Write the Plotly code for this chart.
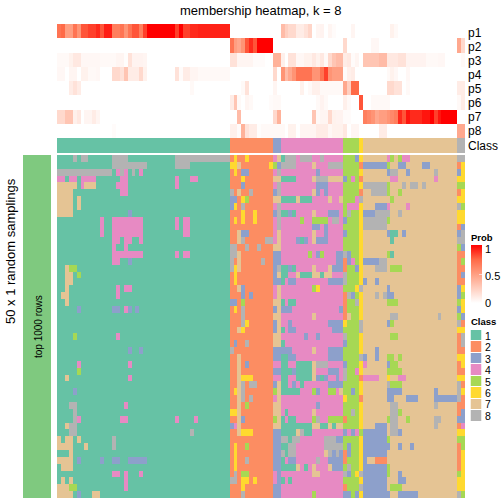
import plotly.graph_objects as go

TITLE = "membership heatmap, k = 8"
P_LABELS = ["p1", "p2", "p3", "p4", "p5", "p6", "p7", "p8"]
CLASS_LABELS = ["1", "2", "3", "4", "5", "6", "7", "8"]
CLASS_COLORS = ["#66C2A5", "#FC8D62", "#8DA0CB", "#E78AC3", "#A6D854", "#FFD92F", "#E5C494", "#B3B3B3"]
N_COLS = 104

# class of each sample: "class:columns"
SAMPLE_CLASS = "1:0-43 2:44-54 3:55-56 4:57-72 5:73-76 6:77 7:78-101 8:102-103"

# membership probabilities, "columns:value", columns not named are 0
P1 = "0:.7 1:.75 2-3:.5 4:.7 5:.55 6-7:.8 8-9:.85 10:.9 11:.8 12-13:.93 14-15:.65 16:.7 17:.55 18:.7 19-20:.8 21:.65 22:.85 23-29:1 30:.85 31:1 32-33:.85 34-35:.9 36-43:.92 57:.35 58:.25 59-60:.2 61-62:.1 63:.15 64:.22 66:.05 67:.06 69:.05 70:.02 75:.05 85:.07 86:.03"
P2 = "44:.7 45:.5 46:.45 47:.55 48:.8 49:.9 50:.8 51-54:1 73:.2 80-81:.04 102:.45 103:.2"
P3 = "0-2:.03 3:.07 4-5:.12 6-10:.04 11-14:.03 15-16:.05 17:.01 18:.15 19-21:.06 22:.05 44-45:.15 46-49:.05 50-52:.02 55-56:.4 57:.08 59-60:.15 61-62:.04 63-64:.07 65:.12 66:.07 67:.12 68:.03 69:.2 70:.3 71-72:.35 73:.1 74:.12 75:.02 76:.05 78-82:.3 82-83:.35 84-86:.12 87-88:.15 89-93:.06 94-96:.03 97-98:.04 103:.03"
P4 = "0-1:.04 3-4:.05 6-7:.07 8-9:.03 10:.04 14-15:.2 16:.15 17:.3 18:.1 19-20:.1 21:.2 22:.07 30:.15 31:.02 32-33:.1 34-35:.05 36-43:.03 55:.2 57:.55 58:.35 59:.45 60:.55 61-64:.7 65-66:.55 67:.7 68:.85 69:.55 70-72:.5 73:.02 74:.08 75:.1 84:.03 85:.07 86:.04 89:.04"
P5 = "3:.1 4:.15 5:.1 34:.03 47:.03 48:.15 55:.05 62:.07 64:.03 65-66:.08 67-72:.03 73:.45 74:.25 75-76:.75 84-85:.2 86-87:.15 89:.03 102-103:.1"
P6 = "44:.1 45:.3 46:.03 48:.05 49:.03 54:.02 55-56:.03 66:.03 67:.06 68:.03 73:.08 74:.03 77:.8 80-84:.03 102:.03 103:.1"
P7 = "0-1:.2 2-3:.3 4:.08 5:.12 7-8:.05 9:.1 10:.05 46:.35 55:.2 56:.4 65:.3 66:.03 67-68:.05 69:.2 70:.07 71-72:.06 73-74:.02 78:.65 79:.6 80:.55 81:.45 82-83:.5 84:.55 85:.6 86:.65 87:.9 88:.8 89:.95 90-92:.9 93-94:.95 95:1 96:.85 97:.95 98-101:1"
P8 = "14:.02 44-45:.08 46:.02 47:.4 48:.15 49-50:.1 51:.01 52-57:.03 59-60:.07 62-65:.05 66-68:.1 69:.04 70-72:.07 73:.12 75-76:.05 82-83:.1 102-103:.45"

# the 50 random samplings: cells that differ from the sample's own class, "class:columns"
ROWS = [
    "8:4,6-7,14-17,30-43,58-60,62-64,67 6:45,48 4:55,84,88-89 7:56 1:57 3:76 5:85,87",
    "8:14-22,30-33,57-60,69-72 6:44-45,54,103 7:46,65 5:55,84 3:56,78-83,87-88,93-94 2:77,102",
    "8:0-13,16,19,56,85-86,96 4:15,17,21,55 6:45,103 3:47-48,66,84,89,102",
    "4:0-1,3-4,6-9,16-17,30,34-35,75,85-86,96 6:47,102-103 7:55-56,65,69-72 1:57-60 8:66-68 3:73 2:77",
    "7:0-4,7-9 4:6,15-17,30,55 3:47,66-68 8:56,78-83,88,90-91,93 5:84,102-103",
    "7:0-3,46,65 4:16-17 8:44,49,56,80-83 3:66,68 2:77,102 5:84,87 6:103",
    "7:0-3,5,55-56,61,69,72 3:44-45 6:47,102-103 5:48,85 1:57-60,62-64 4:76 8:77",
    "7:0-3,5 3:44,81-83 6:45 8:47,56,102 4:55,74-76,84,89 5:103",
    "7:0-3,65 3:18,59,69-71,78-80 6:47,50,102-103 8:56,74,81-84,87 1:57-58,60",
    "4:11,14-21,30,32-33,55 6:45,47,50,102-103 8:56,70-71,78-83 5:62,65-68,84 3:73",
    "4:11,14-21,30,32-33,55 8:56,78-83 3:65-66,68,103 2:102",
    "4:11,14-21,32-33,55 7:46,56,65 3:47-48,68,73,84,88,102 1:85-86 8:103",
    "4:14-15,17-18,21,55 7:46,56,65 8:47,53-54,102-103 3:61,63,66-68 1:62,85",
    "4:14,17 8:44-45,48,51 7:55-56 5:102 3:103",
    "4:14-21,30,32-33 8:44-45,73 7:46 5:64,67,84 3:66,71-72,74 1:85 2:102-103",
    "4:14-15,75 3:18,71-72,74,78-81 8:44,52,82-83 7:46 2:73,102 5:76,103",
    "7:2,46,65,69 5:3-4,85-87 8:44,56,81-83 6:45 1:57-58,60 3:59,70-72,76 2:73,102-103",
    "7:2-3,56,61,65-66,68-69 5:5 6:45 1:57-58,62-64,67 4:59-60 8:73 2:102 3:103",
    "7:2-3 6:45 1:57 3:59-60,69-72,78,81 8:73 2:102-103",
    "7:2,46,56 4:15,17-18,55 3:47,84,102 5:65 6:66,76,103 8:77",
    "7:1-2,56 4:15,55 3:47,49,75,84-85,102 2:73 8:74,81,83 5:103",
    "7:2,55-56 3:44-45 5:47,84-86,102 1:57,59-60 2:73 8:76 6:103",
    "3:5,14-15,18,20,57-59,72,102 4:17 6:45,103 8:47 7:56 2:73",
    "8:47,85-86,97 7:55-56,65,74 2:73 5:102 3:103",
    "8:47,77,102 6:48,73 7:56 3:59,69-72,84 5:85 2:103",
    "7:46,56 6:47,102-103 1:57 3:59-60,70-72 8:77",
    "5:4,85-86 4:15 7:55-56 3:63,66 8:73,103 2:102",
    "3:45,73 8:48,103 7:55-56 1:57 2:102",
    "3:18,21,57-59,69-72,81 8:44 7:65 2:102-103",
    "7:46 1:57-58 3:59-60,69-72,78,81 8:77 5:84-85,87 6:102-103",
    "4:5,18,55-56,59-60,78 7:46,65 3:48,73,84 1:57-58,61-64 8:66-68 5:85-86 2:102 6:103",
    "5:5,84-87 7:46,65 1:57-59,61-64 3:60,69-71 8:73 4:76 2:102-103",
    "7:2,46,65,82-83 4:18,55-56,59-60,78-81,87-88 6:47-49,84,102-103 1:57-58,61-64,67 3:66,68,71 8:73 2:77",
    "7:46,56 8:47,49-50,84,102 1:57-58,62 4:59,61 3:60,69-72 5:85-87 2:103",
    "3:4,66,75,84-87,96 6:45,103 7:46,56,72 8:47,102 5:55,65,69-70 1:57-61",
    "7:46,56 8:47,49,102 4:55 6:73 2:77,103 3:84-85,89-91,96-101",
    "8:3-4,85-86,96 4:17 7:46,55-56 5:48 3:66 2:102-103",
    "8:4,75,85-86 6:44-45 7:46,55-56,65 1:58 5:87 2:102 3:103",
    "8:4,66,85-86,96-97 4:5,16-17,30,35,58 7:46,56 3:47,102-103 5:55,65,69-72,84,89 1:57,59-60 2:73",
    "7:2,46,55-56,65-66,69,71-72 8:3-4,85-86,96 3:44,81-83 4:45,103 1:57-64,67-68,70 2:102",
    "8:3-4,34,62,85-86 7:46,61 6:47-49,102-103 1:57-60,63-64 3:73,75,78-83,87 4:74,76 5:77",
    "7:0,2-3,5 8:14,57-58,60-61,68-70 1:59 3:71-72,78-83 5:84,102-103",
    "7:0-3,7 8:14,59-60,68-72 6:45 5:48,103 1:57-58 3:74,78-84,87,90 2:102",
    "7:3,68 6:45,103 8:57,59-60,69,71 1:58 3:70,72,74,78-83 2:73,102",
    "7:0-3 3:5,11,14-15,18-22,59-60,69-72,78 6:45,103 8:48,66 1:57 2:73,81-83,102",
    "7:1-3,61,65,69 6:45,103 1:57-60,63 3:70-72,78-83 8:74 5:84 2:102",
    "4:14-15,17,21,55 8:45,73,77 5:47-48,75,84,102 7:65-66 3:74,78-83,87 6:76,103",
    "7:1,3 4:17,55,58 8:44-45 6:47-48,50,102-103 1:57,59 3:78-83,87-88",
    "7:0-2 5:3-4,85-87 4:17 6:47,102-103 2:73 8:77 3:78-83",
    "7:0-3,9-10 3:5,73-74,76,78-84,87-91 8:47,102 5:65,75,103",
]


def cols(text):
    out = []
    for part in text.split(","):
        a, _, b = part.partition("-")
        out.extend(range(int(a), int(b or a) + 1))
    return out


def prob_fill(spec):
    vals = [0.0] * N_COLS
    for item in spec.split():
        columns, value = item.split(":")
        for c in cols(columns):
            vals[c] = float(value)
    return vals


def class_fill(spec, base):
    vals = list(base)
    for item in spec.split():
        k, columns = item.split(":")
        for c in cols(columns):
            vals[c] = int(k)
    return vals


W = H = 504
def px(x): return x / W
def py(y): return 1 - y / H


band = class_fill(SAMPLE_CLASS, [0] * N_COLS)
body = [class_fill(r, band) for r in ROWS]
probs = [prob_fill(p) for p in (P1, P2, P3, P4, P5, P6, P7, P8)]

class_scale = []
for i, c in enumerate(CLASS_COLORS):
    class_scale += [[i / 8, c], [(i + 1) / 8, c]]
prob_scale = [[0, "#FFFFFF"], [.25, "#FFCFC0"], [.5, "#FF9E81"], [.75, "#FF6A47"], [1, "#FF0000"]]
FONT = "Liberation Sans, Arial, Helvetica, sans-serif"

fig = go.Figure()
# probability rows
fig.add_trace(go.Heatmap(
    z=probs, xaxis="x", yaxis="y", colorscale=prob_scale, zmin=0, zmax=1,
    colorbar=dict(x=px(470.5), xanchor="left", y=py(245), yanchor="top", lenmode="pixels", len=58,
                  thicknessmode="pixels", thickness=11, outlinewidth=0, xpad=0, ypad=0,
                  tickvals=[0, .5, 1], showticklabels=False, ticks="inside", ticklen=3, tickcolor="#FFD8CF")))
# class band
fig.add_trace(go.Heatmap(z=[band], xaxis="x2", yaxis="y2", colorscale=class_scale, zmin=.5, zmax=8.5, showscale=False))
# body
fig.add_trace(go.Heatmap(z=body, xaxis="x3", yaxis="y3", colorscale=class_scale, zmin=.5, zmax=8.5, showscale=False))
# left bar
fig.add_trace(go.Heatmap(z=[[1]], xaxis="x4", yaxis="y4", colorscale=[[0, "#7FC97F"], [1, "#7FC97F"]], showscale=False))
# class legend keys
fig.add_trace(go.Heatmap(z=[[i + 1] for i in range(8)], xaxis="x5", yaxis="y5", colorscale=class_scale,
                         zmin=.5, zmax=8.5, showscale=False, ygap=1))

hidden = dict(visible=False, fixedrange=True)
fig.update_layout(
    width=W, height=H, margin=dict(l=0, r=0, t=0, b=0), paper_bgcolor="white", plot_bgcolor="white",
    font=dict(family=FONT, color="black"), showlegend=False,
    xaxis=dict(domain=[px(57), px(465)], range=[-.5, N_COLS - .5], **hidden),
    yaxis=dict(domain=[py(138), py(24)], range=[7.5, -.5], anchor="x", **hidden),
    xaxis2=dict(domain=[px(57), px(465)], range=[-.5, N_COLS - .5], anchor="y2", **hidden),
    yaxis2=dict(domain=[py(153), py(138)], range=[-.5, .5], anchor="x2", **hidden),
    xaxis3=dict(domain=[px(57), px(465)], range=[-.5, N_COLS - .5], anchor="y3", **hidden),
    yaxis3=dict(domain=[py(498), py(155)], range=[49.5, -.5], anchor="x3", **hidden),
    xaxis4=dict(domain=[px(23), px(51)], range=[-.5, .5], anchor="y4", **hidden),
    yaxis4=dict(domain=[py(498), py(155)], range=[-.5, .5], anchor="x4", **hidden),
    xaxis5=dict(domain=[px(470.5), px(481.5)], range=[-.5, .5], anchor="y5", **hidden),
    yaxis5=dict(domain=[py(421.5), py(330)], range=[7.5, -.5], anchor="x5", **hidden),
)


def note(x, y, text, size, xanchor="left", angle=0, bold=False):
    fig.add_annotation(xref="paper", yref="paper", x=px(x), y=py(y), text=f"<b>{text}</b>" if bold else text,
                       showarrow=False, xanchor=xanchor, yanchor="middle", textangle=angle,
                       font=dict(size=size, family=FONT, color="black"), borderpad=0, borderwidth=0)


note(261, 10, TITLE, 13, "center")
note(10, 251, "50 x 1 random samplings", 13, "center", -90)
note(38.5, 326.5, "top 1000 rows", 10, "center", -90)
for i, lab in enumerate(P_LABELS):
    note(468, 32.5 + i * 14.1, lab, 12)
note(468, 146, "Class", 12)
note(470.5, 237, "Prob", 9.5, bold=True)
note(484.5, 249, "1", 11)
note(484.5, 276, "0.5", 11)
note(484.5, 303, "0", 11)
note(470.5, 321, "Class", 9.5, bold=True)
for i, lab in enumerate(CLASS_LABELS):
    note(485, 336 + i * 11.4, lab, 10.5)

fig.write_html("out.html", config={"displayModeBar": False},
               post_script="document.body.style.margin='0';document.documentElement.style.margin='0';")
